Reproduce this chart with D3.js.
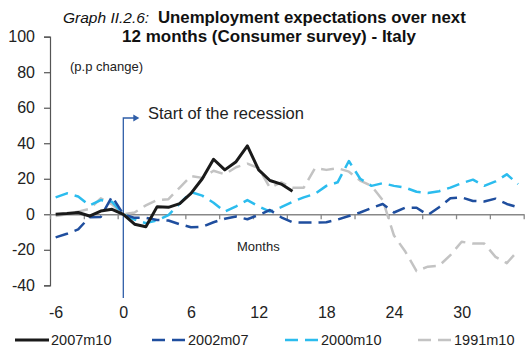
<!DOCTYPE html>
<html>
<head>
<meta charset="utf-8">
<script src="https://cdn.jsdelivr.net/npm/d3@7"></script>
<style>
  html, body { margin: 0; padding: 0; background: #fff; }
  svg { display: block; font-family: "Liberation Sans", Arial, Helvetica, sans-serif; }
</style>
</head>
<body>
<svg id="chart" width="525" height="358"></svg>
<script>
// Months relative to the start of each recession
const months = [-6,-5,-4,-3,-2,-1,0,1,2,3,4,5,6,7,8,9,10,11,12,13,14,15,16,17,18,19,20,
  21,22,23,24,25,26,27,28,29,30,31,32,33,34,35];

// Change in unemployment expectations (p.p.) for each episode
const s2007m10 = [0,0.4,1,-1,1.8,2.8,0,-5.6,-7,4.3,3.9,6,11.8,20,31,25,29.6,38.5,25,19,17,13];
const s2002m07 = [-13,-11,-8.5,-1.7,-1.5,10,0,-2,-2,-3.2,-3.5,-5.6,-7.3,-7,-4.5,-2.5,-1.3,-2.8,-0.4,2.4,-1.7,
  -4.5,-4.7,-4.7,-4.5,-3,-1,1,3.5,5.8,1,3.7,3.7,-0.4,4,9,9.5,7.5,7.2,8.8,5.8,3.9];
const s2000m10 = [9.5,11.8,10,5,8,7,0,-3,-5,-3.5,-0.5,6,12.5,10.5,6.5,1.5,4.5,8,4.5,1.5,4,
  7,9.5,11.5,16,18,30,20,16,17.5,16,15,12.7,12,13,15,17.5,19.5,16,18.5,22.5,17];
const s1991m10 = [-1,0,1.5,3,9,5.5,0,1,5,8,8.5,15,21.5,20.5,24.5,22.5,26.5,28.5,26,15,18,
  15,15,26,25,26,24,19,16,8,-12,-21,-32,-29.5,-29,-23,-15.5,-16.5,-16.5,-24,-27.5,-20.5];

const seriesNames = ["2007m10", "2002m07", "2000m10", "1991m10"];
const seriesColors = ["#1a1a1a", "#1f4e9e", "#2bbcee", "#c3c3c3"];

const yTicks = [-40,-20,0,20,40,60,80,100];
const xLabelTicks = [-6,0,6,12,18,24,30];
const xMinorTicks = [-6.5,-3.5,-0.5,2.5,5.5,8.5,11.5,14.5,17.5,20.5,23.5,26.5,29.5,32.5,35.5];

const svg = d3.select("#chart");
const x = d3.scaleLinear().domain([-6.5, 35.5]).range([50, 523.7]);
const y = d3.scaleLinear().domain([-40, 100]).range([285.3, 36.7]);
const plain = d => String(d);

// Title
svg.append("text").attr("x", 63).attr("y", 23).attr("font-style", "italic")
  .attr("font-size", 15.5).attr("fill", "#111").text("Graph II.2.6:");
svg.append("text").attr("x", 158).attr("y", 23).attr("font-weight", "bold")
  .attr("font-size", 16.8).attr("fill", "#111").text("Unemployment expectations over next");
svg.append("text").attr("x", 269).attr("y", 42).attr("text-anchor", "middle")
  .attr("font-weight", "bold").attr("font-size", 17).attr("fill", "#111")
  .text("12 months (Consumer survey) - Italy");

// Y axis
const yAxis = svg.append("g").attr("transform", "translate(50,0)")
  .call(d3.axisLeft(y).tickValues(yTicks).tickSize(6).tickPadding(9).tickFormat(plain));
yAxis.select(".domain").attr("stroke", "#555").attr("stroke-width", 1.2);
yAxis.selectAll(".tick line").attr("stroke", "#555").attr("stroke-width", 1.2);
yAxis.selectAll("text").attr("font-size", 16).attr("fill", "#222")
  .attr("font-family", "'Liberation Sans', Arial, sans-serif");

// Zero line with tick marks between category groups
const xAxis = svg.append("g").attr("transform", `translate(0,${y(0)})`)
  .call(d3.axisBottom(x).tickValues(xMinorTicks).tickSize(5).tickSizeOuter(0).tickFormat(""));
xAxis.select(".domain").attr("stroke", "#888").attr("stroke-width", 1.3);
xAxis.selectAll(".tick line").attr("stroke", "#888").attr("stroke-width", 1.3);

// Month labels along the bottom
const xLab = svg.append("g").attr("transform", "translate(0,307)")
  .call(d3.axisBottom(x).tickValues(xLabelTicks).tickSize(0).tickPadding(0).tickFormat(plain));
xLab.select(".domain").remove();
xLab.selectAll("text").attr("font-size", 16).attr("fill", "#222")
  .attr("font-family", "'Liberation Sans', Arial, sans-serif");

// Annotations
svg.append("text").attr("x", 70).attr("y", 71).attr("font-size", 13).attr("fill", "#222").text("(p.p change)");
svg.append("text").attr("x", 237).attr("y", 251).attr("font-size", 13).attr("fill", "#222").text("Months");

// Start-of-recession marker
const markColor = "#2f5ea8";
svg.append("path")
  .attr("d", `M${x(0)},298 L${x(0)},118 L${x(0) + 11},118`)
  .attr("fill", "none").attr("stroke", markColor).attr("stroke-width", 1.3);
svg.append("path")
  .attr("d", `M${x(0) + 10},114.5 L${x(0) + 16},118 L${x(0) + 10},121.5 Z`)
  .attr("fill", markColor);
svg.append("text").attr("x", 148).attr("y", 119).attr("font-size", 16.5).attr("fill", "#222")
  .text("Start of the recession");

// Series lines
const line = d3.line().x((d, i) => x(months[i])).y(d => y(d));
const seriesData = [s2007m10, s2002m07, s2000m10, s1991m10];
const dashes = [null, "13,7", "13,7", "13,7"];
const widths = [3, 2.5, 2.5, 2.5];
[3, 2, 1, 0].forEach(k => {
  svg.append("path").datum(seriesData[k])
    .attr("d", line)
    .attr("fill", "none")
    .attr("stroke", seriesColors[k])
    .attr("stroke-width", widths[k])
    .attr("stroke-dasharray", dashes[k])
    .attr("stroke-linejoin", "round");
});

// Legend
const legendX = [15, 152, 285, 418];
const legend = svg.append("g");
seriesNames.forEach((name, k) => {
  legend.append("line")
    .attr("x1", legendX[k]).attr("x2", legendX[k] + 34)
    .attr("y1", 340).attr("y2", 340)
    .attr("stroke", seriesColors[k]).attr("stroke-width", widths[k])
    .attr("stroke-dasharray", dashes[k] ? "13,7" : null);
  legend.append("text")
    .attr("x", legendX[k] + 36).attr("y", 345)
    .attr("font-size", 14.5).attr("fill", "#222").text(name);
});
</script>
</body>
</html>
